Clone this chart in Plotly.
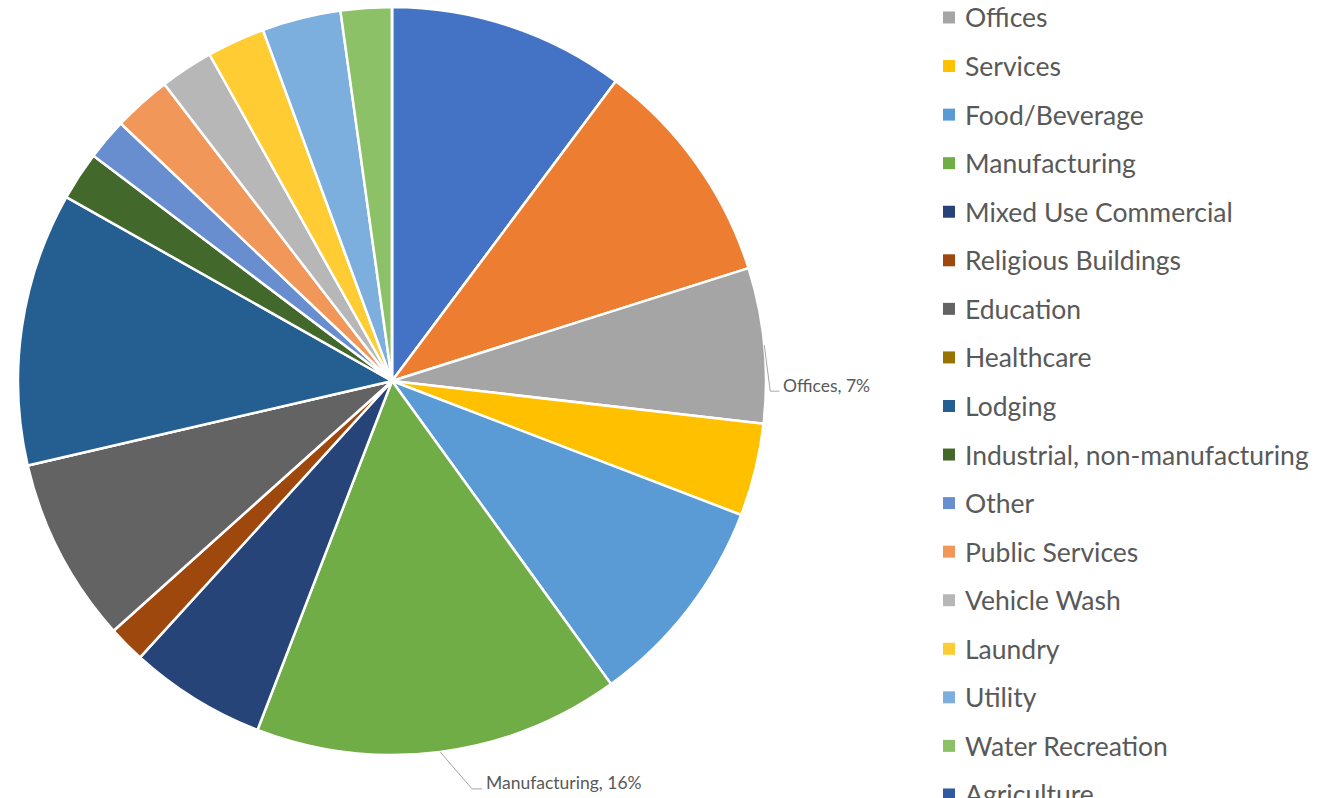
import math
import plotly.graph_objects as go

# Share of commercial water use by sector (%), in drawing order (clockwise from 12 o'clock)
categories = [
    "Retail", "Multifamily", "Offices", "Services", "Food/Beverage", "Manufacturing",
    "Mixed Use Commercial", "Religious Buildings", "Education", "Healthcare", "Lodging",
    "Industrial, non-manufacturing", "Other", "Public Services", "Vehicle Wash", "Laundry",
    "Utility", "Water Recreation", "Agriculture",
]
shares = [10.2, 9.9, 6.7, 4.0, 9.2, 15.8, 5.9, 1.6, 8.0, 0.0, 11.8,
          2.1, 1.8, 2.5, 2.3, 2.5, 3.4, 2.2, 0.0]
colors = [
    "#4472C4", "#ED7D31", "#A5A5A5", "#FFC000", "#5B9BD5", "#70AD47",
    "#264478", "#9E480E", "#636363", "#997300", "#255E91", "#43682B",
    "#698ED0", "#F1975A", "#B7B7B7", "#FFCD33", "#7CAFDD", "#8CC168", "#335AA1",
]
labelled = ["Offices", "Manufacturing"]

W, H = 1317, 798
CX, CY, R = 392, 381, 374          # pie centre and radius in pixels
TEXT = "#595959"
FONT = "Lato"

def px(x):
    return x / W

def py(y):
    return 1 - y / H

fig = go.Figure(go.Pie(
    labels=categories,
    values=shares,
    sort=False,
    direction="clockwise",
    rotation=0,
    marker=dict(colors=colors, line=dict(color="white", width=2.5)),
    textinfo="none",
    showlegend=False,
    domain=dict(x=[px(CX - R), px(CX + R)], y=[py(CY + R), py(CY - R)]),
))

# Data labels with leader lines for selected slices
leader = {
    "Offices": dict(dx=6, dy=46, tail=9),
    "Manufacturing": dict(dx=32, dy=37, tail=10),
}
total = sum(shares)
annotations = []
shapes = []
cum = 0.0
for name, v in zip(categories, shares):
    mid = (cum + v / 2) / total * 2 * math.pi
    cum += v
    if name not in labelled:
        continue
    ax = CX + R * math.sin(mid)
    ay = CY - R * math.cos(mid)
    o = leader[name]
    ex, ey = ax + o["dx"], ay + o["dy"]
    tx = ex + o["tail"]
    shapes.append(dict(
        type="path", xref="paper", yref="paper",
        path=f"M {px(ax)} {py(ay)} L {px(ex)} {py(ey)} L {px(tx)} {py(ey)}",
        line=dict(color="#A6A6A6", width=1),
    ))
    annotations.append(dict(
        x=px(tx + 2), y=py(ey - 6), xref="paper", yref="paper",
        xanchor="left", yanchor="middle", showarrow=False,
        text=f"{name}, {round(v / total * 100)}%",
        font=dict(family=FONT, size=17.5, color=TEXT),
    ))

# Legend column (rows above the top edge fall outside the page)
LEG_TOP, LEG_STEP = 17.5 - 2 * 48.56, 48.56
for i, (name, c) in enumerate(zip(categories, colors)):
    yc = LEG_TOP + i * LEG_STEP
    if yc < 0:
        continue
    shapes.append(dict(
        type="rect", xref="paper", yref="paper",
        x0=px(943), x1=px(955), y0=py(yc + 6), y1=py(yc - 6),
        fillcolor=c, line=dict(width=0),
    ))
    annotations.append(dict(
        x=px(963), y=py(yc), xref="paper", yref="paper",
        xanchor="left", yanchor="middle", showarrow=False,
        text=name, font=dict(family=FONT, size=26.5, color=TEXT),
    ))

fig.update_layout(
    width=W, height=H,
    margin=dict(l=0, r=0, t=0, b=0),
    paper_bgcolor="white", plot_bgcolor="white",
    shapes=shapes, annotations=annotations,
)

fig.write_html("out.html")
